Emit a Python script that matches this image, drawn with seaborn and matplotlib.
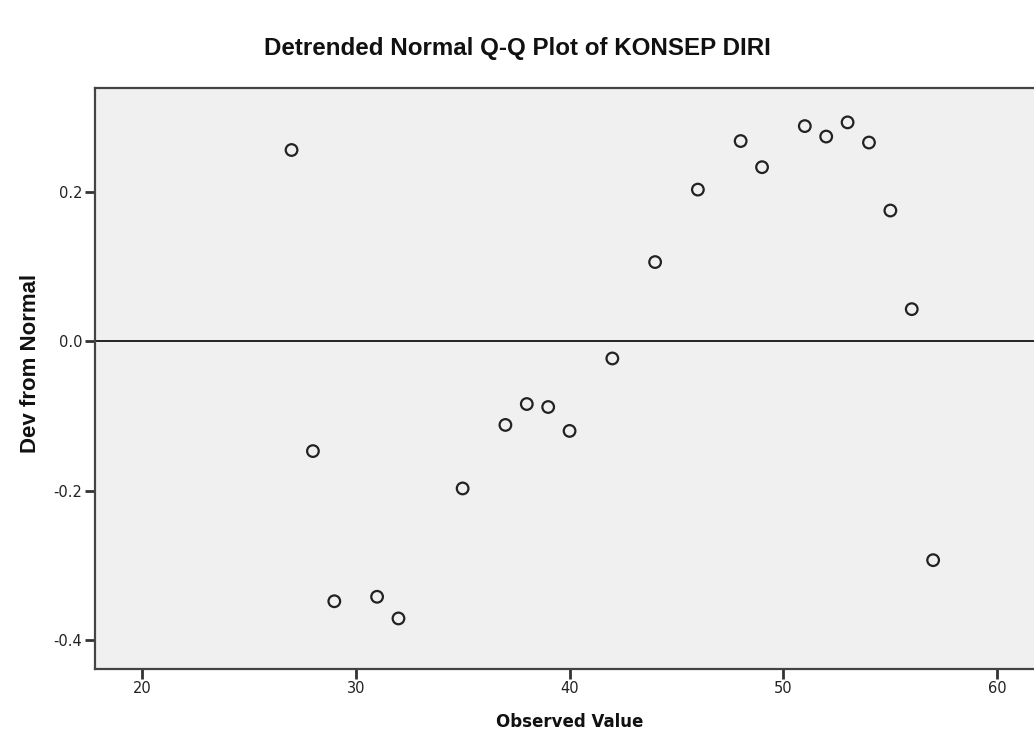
import matplotlib
matplotlib.use("Agg")
import matplotlib.pyplot as plt
import seaborn as sns
import pandas as pd

observed = [27, 28, 29, 31, 32, 35, 37, 38, 39, 40, 42, 44, 46, 48, 49, 51, 52, 53, 54, 55, 56, 57]
dev_from_normal = [0.256, -0.147, -0.348, -0.342, -0.371, -0.197, -0.112, -0.084, -0.088, -0.120,
                   -0.023, 0.106, 0.203, 0.268, 0.233, 0.288, 0.274, 0.293, 0.266, 0.175, 0.043, -0.293]
xticks = [20, 30, 40, 50, 60]
yticks = [-0.4, -0.2, 0.0, 0.2]
ytick_labels = ['-0.4', '-0.2', '0.0', '0.2']

df = pd.DataFrame({'Observed Value': observed, 'Dev from Normal': dev_from_normal})

sns.set_style("ticks")
plt.rcParams['font.family'] = ['Liberation Sans', 'DejaVu Sans']

fig = plt.figure(figsize=(10.34, 7.49), dpi=100)
ax = fig.add_axes([95 / 1034, 1 - 668.5 / 749, (1034 - 95) / 1034 + 0.01, (668.5 - 88) / 749])
ax.set_facecolor('#f0f0f0')

ax.axhline(0, color='black', linewidth=1.2, zorder=1)
sns.scatterplot(data=df, x='Observed Value', y='Dev from Normal', ax=ax,
                marker='o', s=70, facecolors='none', edgecolor='#222222', linewidth=1.6, zorder=3)

ax.set_xlim(17.81, 62.2)
ax.set_ylim(-0.438, 0.339)
ax.set_xticks(xticks)
ax.set_yticks(yticks)
ax.set_yticklabels(ytick_labels)
ax.tick_params(axis='both', which='major', direction='out', length=7, width=2, color='#333333',
               labelcolor='#222222', labelsize=10.5, pad=2)
ax.xaxis.set_ticks_position('bottom')
ax.yaxis.set_ticks_position('left')
ax.grid(False)

for lbl in ax.get_xticklabels() + ax.get_yticklabels():
    lbl.set_family(['DejaVu Sans'])

for side in ['left', 'top', 'bottom']:
    ax.spines[side].set_visible(True)
    ax.spines[side].set_color('#444444')
    ax.spines[side].set_linewidth(1.6)
ax.spines['right'].set_visible(False)

ax.set_xlabel('Observed Value', fontsize=12, fontweight='bold', labelpad=12, color='#111111',
              family=['DejaVu Sans'])
ax.set_ylabel('Dev from Normal', fontsize=16, fontweight='bold', labelpad=8, color='#111111')
ax.yaxis.set_label_coords(-0.057, 0.525)
fig.text(0.5, 1 - 48 / 749, 'Detrended Normal Q-Q Plot of KONSEP DIRI', ha='center', va='center',
         fontsize=17.4, fontweight='bold', color='#111111')

fig.savefig('out.png', dpi=100)
